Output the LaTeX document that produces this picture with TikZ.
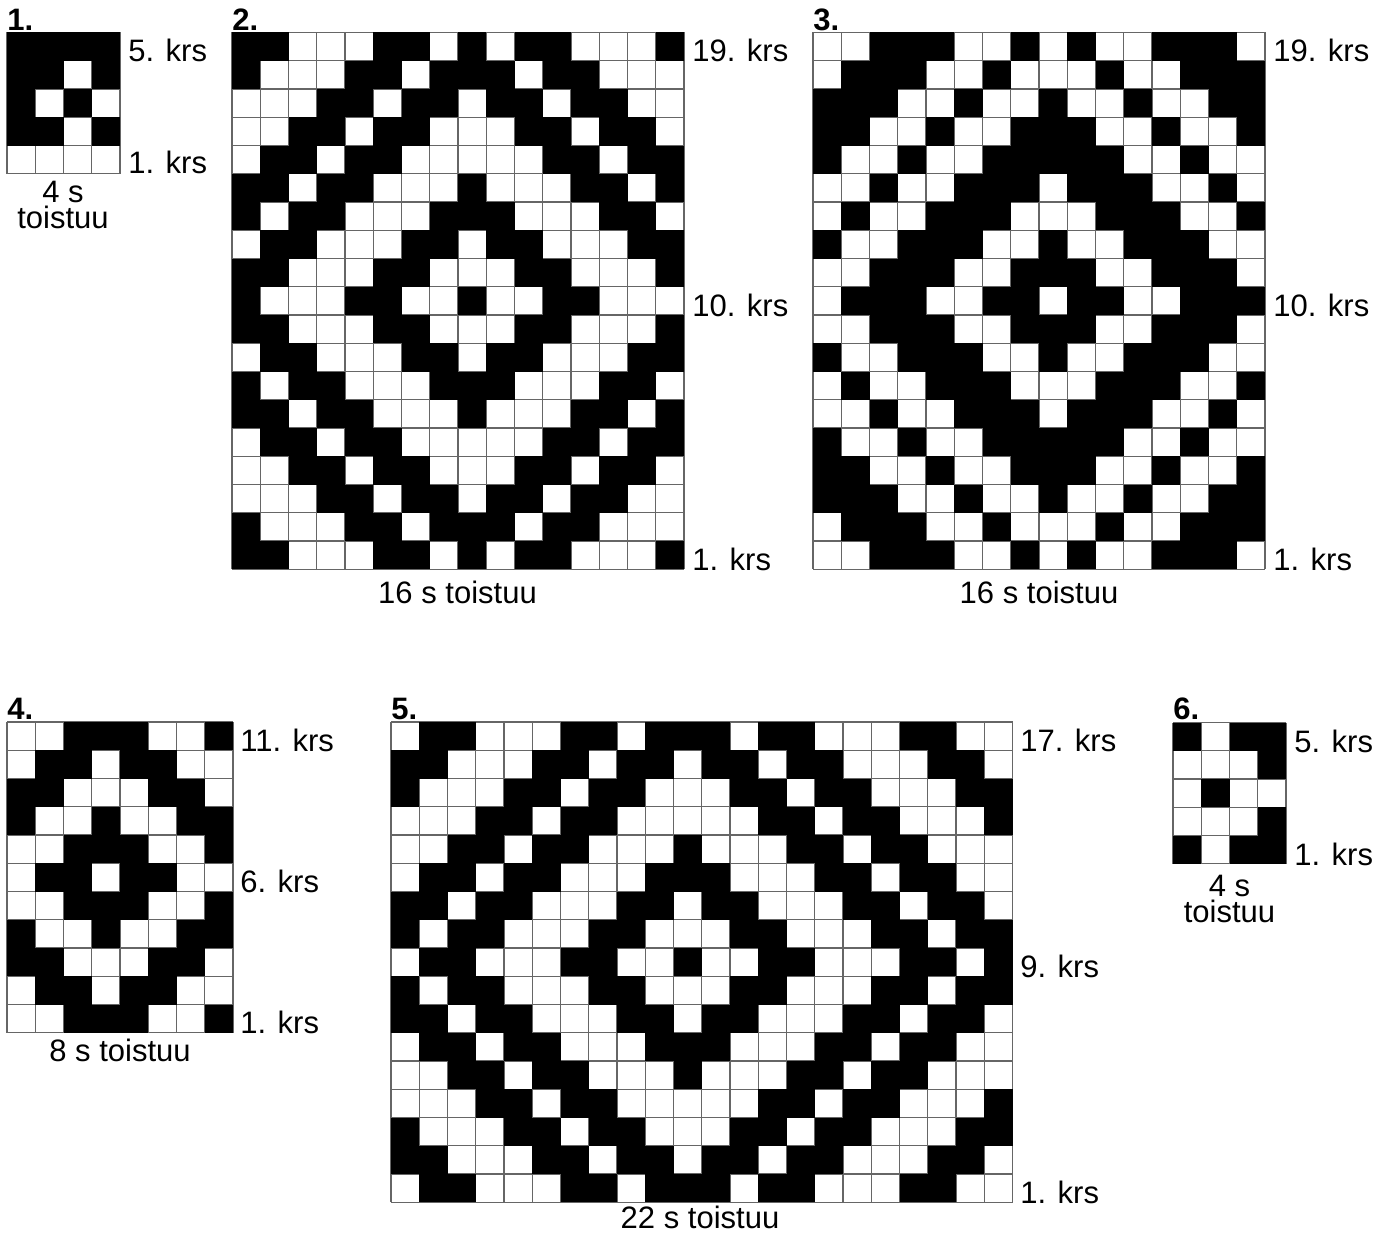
\documentclass[tikz,border=0pt]{standalone}
\usepackage{fontspec}
\setmainfont{Liberation Sans}
\tikzset{
  gridline/.style={line width=0.6pt, draw=black!60},
  cellfill/.style={fill=black},
  lbl/.style={font=\fontsize{15.5}{13}\selectfont, inner sep=0pt, anchor=base west},
  lblc/.style={font=\fontsize{15.5}{13}\selectfont, inner sep=0pt, anchor=base},
  lbltwo/.style={font=\fontsize{15.5}{13}\selectfont, inner sep=0pt, align=center, anchor=north},
  numlbl/.style={font=\fontsize{15.5}{18}\selectfont\bfseries, inner sep=0pt, anchor=base west},
}
% #1 x0, #2 y0, #3 cols, #4 rows, #5 cell w, #6 cell h, #7 rows list
\newcommand\kchart[7]{%
  \foreach \i in {0,...,#3} \draw[gridline] ({#1+\i*#5},#2) -- ++(0,{#4*#6});
  \foreach \j in {0,...,#4} \draw[gridline] (#1,{#2+\j*#6}) -- ++({#3*#5},0);
  \foreach \rowlist [count=\ry] in {#7} {
    \foreach \v [count=\cx] in \rowlist {
      \ifnum\v=1
        \fill[cellfill] ({#1+(\cx-1)*#5},{#2+(\ry-1)*#6}) rectangle ++(#5,#6);
      \fi
    }
  }
}
\begin{document}
\begin{tikzpicture}[x=0.5pt,y=-0.5pt]
\useasboundingbox (0,0) rectangle (1386,1236);
\fill[white] (0,0) rectangle (1386,1236);

% ---------- Chart 1 ----------
\kchart{7}{32.5}{4}{5}{28.25}{28.25}{%
{1,1,1,1},{1,1,0,1},{1,0,1,0},{1,1,0,1},{0,0,0,0}}
\node[numlbl] (n1) at (7,30.5) {1.};
\node[lbl] (c1top) at (128,62) {5. krs};
\node[lbl] (c1bot) at (128,173.5) {1. krs};
\node[lbltwo] (c1rep) at (63,181) {4 s\\toistuu};

% ---------- Chart 2 ----------
\kchart{232}{32.5}{16}{19}{28.25}{28.25}{%
{1,1,0,0,0,1,1,0,1,0,1,1,0,0,0,1},
{1,0,0,0,1,1,0,1,1,1,0,1,1,0,0,0},
{0,0,0,1,1,0,1,1,0,1,1,0,1,1,0,0},
{0,0,1,1,0,1,1,0,0,0,1,1,0,1,1,0},
{0,1,1,0,1,1,0,0,0,0,0,1,1,0,1,1},
{1,1,0,1,1,0,0,0,1,0,0,0,1,1,0,1},
{1,0,1,1,0,0,0,1,1,1,0,0,0,1,1,0},
{0,1,1,0,0,0,1,1,0,1,1,0,0,0,1,1},
{1,1,0,0,0,1,1,0,0,0,1,1,0,0,0,1},
{1,0,0,0,1,1,0,0,1,0,0,1,1,0,0,0},
{1,1,0,0,0,1,1,0,0,0,1,1,0,0,0,1},
{0,1,1,0,0,0,1,1,0,1,1,0,0,0,1,1},
{1,0,1,1,0,0,0,1,1,1,0,0,0,1,1,0},
{1,1,0,1,1,0,0,0,1,0,0,0,1,1,0,1},
{0,1,1,0,1,1,0,0,0,0,0,1,1,0,1,1},
{0,0,1,1,0,1,1,0,0,0,1,1,0,1,1,0},
{0,0,0,1,1,0,1,1,0,1,1,0,1,1,0,0},
{1,0,0,0,1,1,0,1,1,1,0,1,1,0,0,0},
{1,1,0,0,0,1,1,0,1,0,1,1,0,0,0,1}}
\node[numlbl] (n2) at (232,30.5) {2.};
\node[lbl] (c2top) at (692,62) {19. krs};
\node[lbl] (c2mid) at (692,316) {10. krs};
\node[lbl] (c2bot) at (692,570) {1. krs};
\node[lblc] (c2rep) at (457.5,603) {16 s toistuu};

% ---------- Chart 3 ----------
\kchart{813}{32.5}{16}{19}{28.25}{28.25}{%
{0,0,1,1,1,0,0,1,0,1,0,0,1,1,1,0},
{0,1,1,1,0,0,1,0,0,0,1,0,0,1,1,1},
{1,1,1,0,0,1,0,0,1,0,0,1,0,0,1,1},
{1,1,0,0,1,0,0,1,1,1,0,0,1,0,0,1},
{1,0,0,1,0,0,1,1,1,1,1,0,0,1,0,0},
{0,0,1,0,0,1,1,1,0,1,1,1,0,0,1,0},
{0,1,0,0,1,1,1,0,0,0,1,1,1,0,0,1},
{1,0,0,1,1,1,0,0,1,0,0,1,1,1,0,0},
{0,0,1,1,1,0,0,1,1,1,0,0,1,1,1,0},
{0,1,1,1,0,0,1,1,0,1,1,0,0,1,1,1},
{0,0,1,1,1,0,0,1,1,1,0,0,1,1,1,0},
{1,0,0,1,1,1,0,0,1,0,0,1,1,1,0,0},
{0,1,0,0,1,1,1,0,0,0,1,1,1,0,0,1},
{0,0,1,0,0,1,1,1,0,1,1,1,0,0,1,0},
{1,0,0,1,0,0,1,1,1,1,1,0,0,1,0,0},
{1,1,0,0,1,0,0,1,1,1,0,0,1,0,0,1},
{1,1,1,0,0,1,0,0,1,0,0,1,0,0,1,1},
{0,1,1,1,0,0,1,0,0,0,1,0,0,1,1,1},
{0,0,1,1,1,0,0,1,0,1,0,0,1,1,1,0}}
\node[numlbl] (n3) at (813,30.5) {3.};
\node[lbl] (c3top) at (1273,62) {19. krs};
\node[lbl] (c3mid) at (1273,316) {10. krs};
\node[lbl] (c3bot) at (1273,570) {1. krs};
\node[lblc] (c3rep) at (1039,603) {16 s toistuu};

% ---------- Chart 4 ----------
\kchart{7}{722}{8}{11}{28.25}{28.25}{%
{0,0,1,1,1,0,0,1},
{0,1,1,0,1,1,0,0},
{1,1,0,0,0,1,1,0},
{1,0,0,1,0,0,1,1},
{0,0,1,1,1,0,0,1},
{0,1,1,0,1,1,0,0},
{0,0,1,1,1,0,0,1},
{1,0,0,1,0,0,1,1},
{1,1,0,0,0,1,1,0},
{0,1,1,0,1,1,0,0},
{0,0,1,1,1,0,0,1}}
\node[numlbl] (n4) at (7,719.5) {4.};
\node[lbl] (c4top) at (240,751) {11. krs};
\node[lbl] (c4mid) at (240,892) {6. krs};
\node[lbl] (c4bot) at (240,1033) {1. krs};
\node[lblc] (c4rep) at (120,1061) {8 s toistuu};

% ---------- Chart 5 ----------
\kchart{391}{722}{22}{17}{28.25}{28.25}{%
{0,1,1,0,0,0,1,1,0,1,1,1,0,1,1,0,0,0,1,1,0,0},
{1,1,0,0,0,1,1,0,1,1,0,1,1,0,1,1,0,0,0,1,1,0},
{1,0,0,0,1,1,0,1,1,0,0,0,1,1,0,1,1,0,0,0,1,1},
{0,0,0,1,1,0,1,1,0,0,0,0,0,1,1,0,1,1,0,0,0,1},
{0,0,1,1,0,1,1,0,0,0,1,0,0,0,1,1,0,1,1,0,0,0},
{0,1,1,0,1,1,0,0,0,1,1,1,0,0,0,1,1,0,1,1,0,0},
{1,1,0,1,1,0,0,0,1,1,0,1,1,0,0,0,1,1,0,1,1,0},
{1,0,1,1,0,0,0,1,1,0,0,0,1,1,0,0,0,1,1,0,1,1},
{0,1,1,0,0,0,1,1,0,0,1,0,0,1,1,0,0,0,1,1,0,1},
{1,0,1,1,0,0,0,1,1,0,0,0,1,1,0,0,0,1,1,0,1,1},
{1,1,0,1,1,0,0,0,1,1,0,1,1,0,0,0,1,1,0,1,1,0},
{0,1,1,0,1,1,0,0,0,1,1,1,0,0,0,1,1,0,1,1,0,0},
{0,0,1,1,0,1,1,0,0,0,1,0,0,0,1,1,0,1,1,0,0,0},
{0,0,0,1,1,0,1,1,0,0,0,0,0,1,1,0,1,1,0,0,0,1},
{1,0,0,0,1,1,0,1,1,0,0,0,1,1,0,1,1,0,0,0,1,1},
{1,1,0,0,0,1,1,0,1,1,0,1,1,0,1,1,0,0,0,1,1,0},
{0,1,1,0,0,0,1,1,0,1,1,1,0,1,1,0,0,0,1,1,0,0}}
\node[numlbl] (n5) at (391,719.5) {5.};
\node[lbl] (c5top) at (1020,751) {17. krs};
\node[lbl] (c5mid) at (1020,977) {9. krs};
\node[lbl] (c5bot) at (1020,1203) {1. krs};
\node[lblc] (c5rep) at (700,1228) {22 s toistuu};

% ---------- Chart 6 ----------
\kchart{1173}{722.5}{4}{5}{28.25}{28.25}{%
{1,0,1,1},{0,0,0,1},{0,1,0,0},{0,0,0,1},{1,0,1,1}}
\node[numlbl] (n6) at (1173,719.5) {6.};
\node[lbl] (c6top) at (1294,752) {5. krs};
\node[lbl] (c6bot) at (1294,865) {1. krs};
\node[lbltwo] (c6rep) at (1229.5,875) {4 s\\toistuu};
\end{tikzpicture}
\end{document}
